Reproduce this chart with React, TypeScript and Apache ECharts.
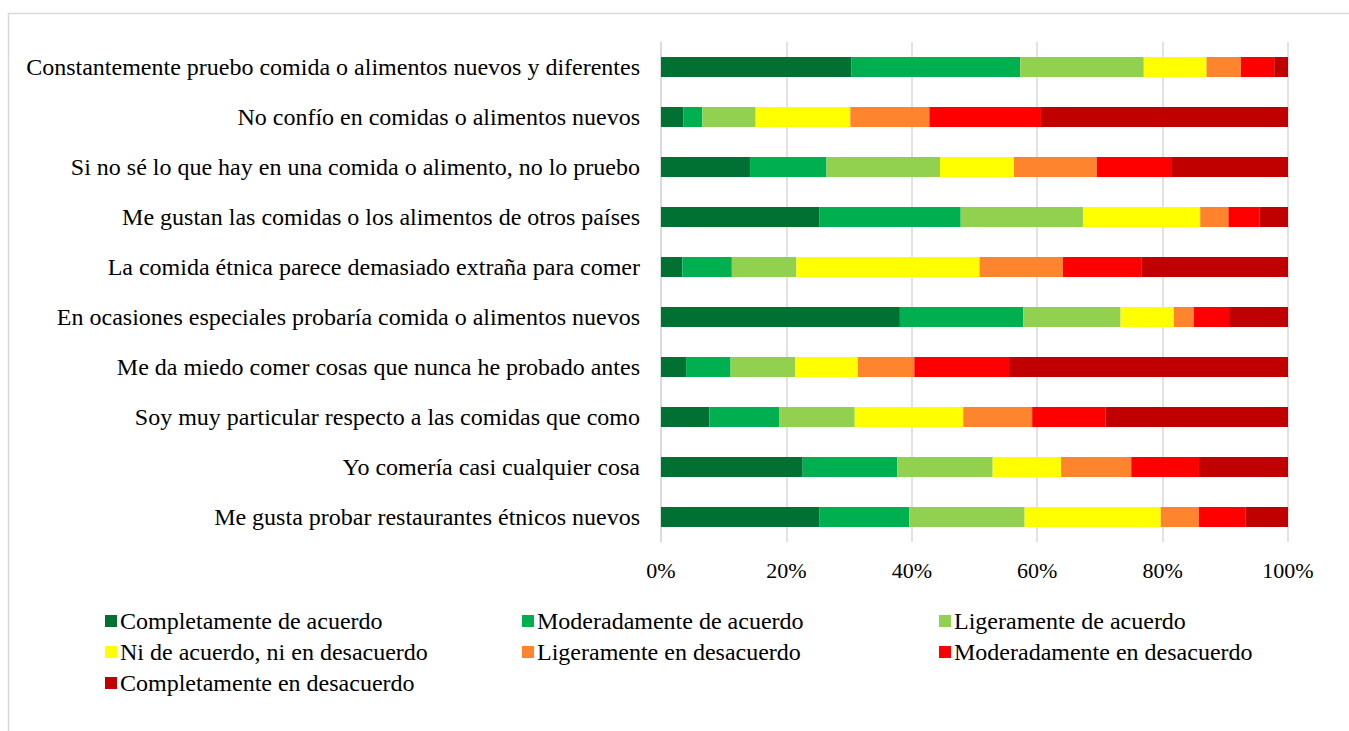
import React, { useEffect, useRef } from "react";
import * as echarts from "echarts";

const categories = [
  "Constantemente pruebo comida o alimentos nuevos y diferentes",
  "No confío en comidas o alimentos nuevos",
  "Si no sé lo que hay en una comida o alimento, no lo pruebo",
  "Me gustan las comidas o los alimentos de otros países",
  "La comida étnica parece demasiado extraña para comer",
  "En ocasiones especiales probaría comida o alimentos nuevos",
  "Me da miedo comer cosas que nunca he probado antes",
  "Soy muy particular respecto a las comidas que como",
  "Yo comería casi cualquier cosa",
  "Me gusta probar restaurantes étnicos nuevos",
];

const seriesNames = [
  "Completamente de acuerdo",
  "Moderadamente de acuerdo",
  "Ligeramente de acuerdo",
  "Ni de acuerdo, ni en desacuerdo",
  "Ligeramente en desacuerdo",
  "Moderadamente en desacuerdo",
  "Completamente en desacuerdo",
];

const completeAgree = [30.4, 3.6, 14.2, 25.3, 3.4, 38.1, 4.0, 7.7, 22.6, 25.3];
const moderateAgree = [26.9, 3.0, 12.2, 22.5, 7.9, 19.7, 7.1, 11.2, 15.1, 14.3];
const slightAgree = [19.7, 8.5, 18.1, 19.5, 10.3, 15.5, 10.3, 12.0, 15.2, 18.4];
const neutral = [10.0, 15.1, 11.8, 18.7, 29.2, 8.5, 10.0, 17.3, 10.9, 21.7];
const slightDisagree = [5.5, 12.6, 13.2, 4.5, 13.3, 3.2, 9.0, 11.0, 11.2, 6.1];
const moderateDisagree = [5.3, 17.8, 12.0, 5.0, 12.5, 5.6, 15.1, 11.7, 10.8, 7.4];
const completeDisagree = [2.2, 39.4, 18.5, 4.5, 23.4, 9.4, 44.5, 29.1, 14.2, 6.8];

const seriesValues = [
  completeAgree,
  moderateAgree,
  slightAgree,
  neutral,
  slightDisagree,
  moderateDisagree,
  completeDisagree,
];

const colors = ["#007033", "#00B050", "#92D050", "#FFFF00", "#FF842E", "#FF0000", "#C00000"];

const xTicks = [0, 20, 40, 60, 80, 100];

const FONT = "'Liberation Serif', 'Times New Roman', serif";

// legend layout (3 columns)
const legendCols = [105, 522, 939];
const legendRows = [621, 652, 683];

export default function App() {
  const ref = useRef<HTMLDivElement>(null);

  useEffect(() => {
    if (!ref.current) return;
    const chart = echarts.init(ref.current, null, { renderer: "svg" });

    const legends = seriesNames.map((name, i) => ({
      data: [name],
      left: legendCols[i % 3],
      top: legendRows[Math.floor(i / 3)] - 12,
      itemWidth: 12,
      itemHeight: 12,
      icon: "rect",
      selectedMode: false,
      padding: 0,
      textStyle: {
        fontFamily: FONT,
        fontSize: 24,
        color: "#000",
        lineHeight: 24,
        padding: [0, 0, 0, -2],
      },
    }));

    chart.setOption({
      animation: false,
      backgroundColor: "#fff",
      graphic: [
        {
          type: "rect",
          shape: { x: 8.5, y: 13.5, width: 1400, height: 800 },
          style: { fill: "none", stroke: "#d9d9d9", lineWidth: 1.5 },
          silent: true,
        },
      ],
      legend: legends,
      grid: { left: 661, right: 61, top: 42, bottom: 189, containLabel: false },
      xAxis: {
        type: "value",
        min: 0,
        max: 100,
        interval: 20,
        axisLine: { show: false },
        axisTick: { show: false },
        splitLine: { show: true, lineStyle: { color: "#d9d9d9", width: 1.5 } },
        axisLabel: {
          fontFamily: FONT,
          fontSize: 22,
          color: "#000",
          margin: 17,
          formatter: (v: number) => (xTicks.includes(v) ? v + "%" : ""),
        },
      },
      yAxis: {
        type: "category",
        data: categories,
        inverse: true,
        axisLine: { show: true, lineStyle: { color: "#d9d9d9", width: 1.5 } },
        axisTick: { show: false },
        axisLabel: {
          fontFamily: FONT,
          fontSize: 24,
          color: "#000",
          margin: 21,
        },
      },
      series: seriesNames.map((name, i) => ({
        name,
        type: "bar",
        stack: "total",
        barWidth: 20,
        data: seriesValues[i],
        itemStyle: { color: colors[i] },
      })),
    });

    return () => chart.dispose();
  }, []);

  return (
    <div
      ref={ref}
      style={{ position: "fixed", left: 0, top: 0, width: 1349, height: 731 }}
    />
  );
}
